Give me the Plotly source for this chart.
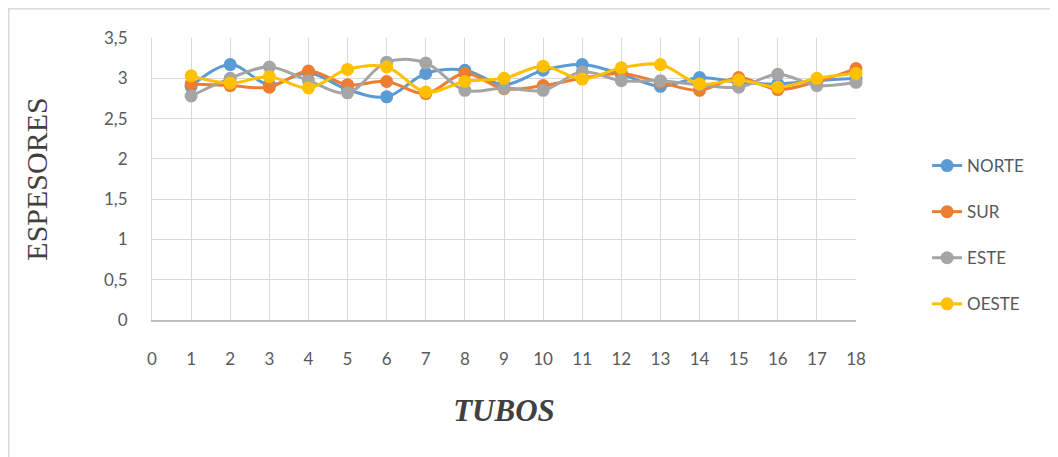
import plotly.graph_objects as go

tubos = list(range(1, 19))
norte = [2.90, 3.17, 2.92, 3.07, 2.86, 2.77, 3.06, 3.10, 2.92, 3.10, 3.17, 3.05, 2.90, 3.01, 2.95, 2.93, 2.97, 3.00]
sur   = [2.93, 2.91, 2.89, 3.09, 2.92, 2.96, 2.81, 3.06, 2.87, 2.91, 3.00, 3.06, 2.95, 2.85, 3.01, 2.86, 2.96, 3.12]
este  = [2.78, 3.00, 3.14, 2.97, 2.82, 3.20, 3.19, 2.85, 2.88, 2.85, 3.08, 2.97, 2.97, 2.92, 2.89, 3.05, 2.91, 2.95]
oeste = [3.03, 2.94, 3.02, 2.88, 3.11, 3.14, 2.83, 2.96, 3.00, 3.15, 2.99, 3.13, 3.17, 2.93, 2.98, 2.89, 3.00, 3.06]

series = [("NORTE", norte, "#5B9BD5"), ("SUR", sur, "#ED7D31"),
          ("ESTE", este, "#A5A5A5"), ("OESTE", oeste, "#FFC000")]

fig = go.Figure()
for name, vals, col in series:
    fig.add_trace(go.Scatter(
        x=tubos, y=vals, name=name, mode="lines+markers",
        line=dict(color=col, width=3, shape="spline", smoothing=1),
        marker=dict(color=col, size=13),
        legendgroup=name, cliponaxis=False))

tickfont = dict(family="Lato, Open Sans, sans-serif", size=17, color="#595959")

L, R, T, B = 144, 848, 30, 312  # plot area in figure pixels
W = R - L
H = B - T

fig.update_layout(
    width=1058, height=457,
    margin=dict(l=L, r=1058 - R, t=T, b=457 - B, autoexpand=False),
    paper_bgcolor="white", plot_bgcolor="white",
    separators=",.",
    showlegend=True,
    legend=dict(x=1.101, xanchor="left", y=0.61, yanchor="top",
                font=dict(family="Lato, Open Sans, sans-serif", size=17, color="#595959"),
                tracegroupgap=21, bgcolor="rgba(0,0,0,0)"),
    xaxis=dict(range=[0, 18], tickmode="linear", tick0=0, dtick=1,
               showgrid=True, gridcolor="#D9D9D9", gridwidth=1,
               zeroline=False, showline=True, linecolor="#BFBFBF", linewidth=2,
               ticks="outside", ticklen=23, tickcolor="rgba(0,0,0,0)",
               tickfont=tickfont,
               title=dict(text="<b><i>TUBOS</i></b>", standoff=31,
                          font=dict(family="Liberation Serif, Times New Roman, serif", size=31, color="#404040"))),
    yaxis=dict(range=[0, 3.5], tickmode="linear", tick0=0, dtick=0.5,
               showgrid=True, gridcolor="#D9D9D9", gridwidth=1,
               zeroline=False, showline=True, linecolor="#D9D9D9", linewidth=1,
               ticks="outside", ticklen=20, tickcolor="rgba(0,0,0,0)",
               tickfont=tickfont,
               title=dict(text="ESPESORES", standoff=47,
                          font=dict(family="Liberation Serif, Times New Roman, serif", size=30, color="#404040"))),
)

# chart border (top and left edges visible)
fig.add_shape(type="rect", xref="paper", yref="paper",
              x0=(0.5 - L) / W, x1=(1075 - L) / W,
              y0=(B - 480) / H, y1=(B - 0.5) / H,
              line=dict(color="#D9D9D9", width=2), fillcolor="rgba(0,0,0,0)", layer="below")

fig.write_html("out.html")
